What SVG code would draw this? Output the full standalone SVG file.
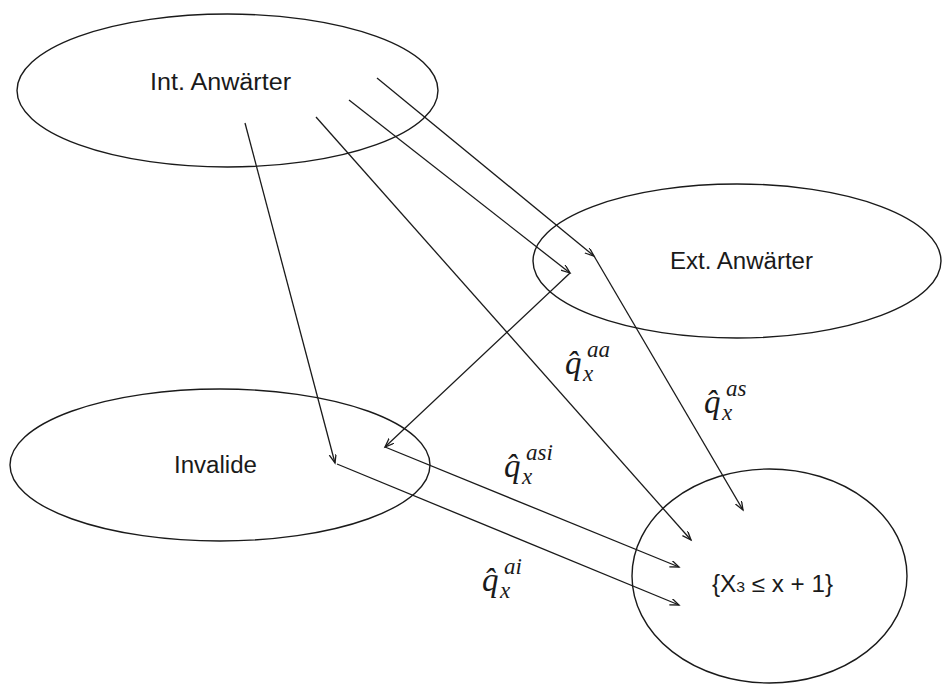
<svg xmlns="http://www.w3.org/2000/svg" width="942" height="684" viewBox="0 0 942 684">
  <defs>
    <marker id="arrow" markerUnits="userSpaceOnUse" markerWidth="12" markerHeight="10" refX="9" refY="3.5" orient="auto">
      <path d="M0,0 L9,3.5 L0,7" fill="none" stroke="#1a1a1a" stroke-width="1.3"/>
    </marker>
  </defs>
  <style>
    .node ellipse { fill: none; stroke: #1a1a1a; stroke-width: 1.4; }
    .node text { font-family: "Liberation Sans", Arial, sans-serif; font-size: 23px; fill: #1a1a1a; text-anchor: middle; }
    .edges line { stroke: #1a1a1a; stroke-width: 1.3; marker-end: url(#arrow); }
    .lbl text { font-family: "Liberation Serif", "DejaVu Serif", "Times New Roman", serif; font-style: italic; fill: #1a1a1a; font-size: 33px; }
    .lbl .sup, .lbl .sub { font-size: 23px; }
  </style>

  <rect width="942" height="684" fill="#ffffff"/>

  <!-- states -->
  <g id="int-anwaerter" class="node">
    <ellipse cx="227.5" cy="90.5" rx="210.5" ry="76.5"/>
    <text x="220.5" y="90" textLength="141" lengthAdjust="spacingAndGlyphs">Int. Anwärter</text>
  </g>
  <g id="ext-anwaerter" class="node">
    <ellipse cx="737" cy="261" rx="204" ry="77"/>
    <text x="741.5" y="269" textLength="143" lengthAdjust="spacingAndGlyphs">Ext. Anwärter</text>
  </g>
  <g id="invalide" class="node">
    <ellipse cx="220" cy="465" rx="210" ry="76"/>
    <text x="215.5" y="473" textLength="83" lengthAdjust="spacingAndGlyphs">Invalide</text>
  </g>
  <g id="ausscheiden" class="node">
    <ellipse cx="769.5" cy="576" rx="137.5" ry="107"/>
    <text x="772.5" y="592" textLength="121" lengthAdjust="spacingAndGlyphs">{X<tspan font-size="15">3</tspan> ≤  x + 1}</text>
  </g>

  <!-- transitions -->
  <g id="connectors" class="edges">
    <line x1="245" y1="123" x2="335" y2="463"/>
    <line x1="316" y1="117" x2="691" y2="540"/>
    <line x1="349" y1="100" x2="570" y2="273"/>
    <line x1="570" y1="273" x2="385" y2="447"/>
    <line x1="385" y1="447" x2="679" y2="567"/>
    <line x1="377" y1="78" x2="594" y2="256"/>
    <line x1="594" y1="256" x2="743" y2="510"/>
    <line x1="337" y1="464" x2="679" y2="605"/>
  </g>

  <!-- transition probabilities: q-hat with superscript state pair and subscript age -->
  <g id="labels" class="lbl">
    <text id="q-aa" x="565" y="374">q̂<tspan class="sup" x="587" y="357">aa</tspan><tspan class="sub" x="583" y="381">x</tspan></text>
    <text id="q-as" x="704" y="413">q̂<tspan class="sup" x="726" y="396">as</tspan><tspan class="sub" x="722" y="420">x</tspan></text>
    <text id="q-asi" x="504" y="477">q̂<tspan class="sup" x="526" y="460">asi</tspan><tspan class="sub" x="522" y="484">x</tspan></text>
    <text id="q-ai" x="482" y="591">q̂<tspan class="sup" x="504" y="574">ai</tspan><tspan class="sub" x="500" y="598">x</tspan></text>
  </g>
</svg>
